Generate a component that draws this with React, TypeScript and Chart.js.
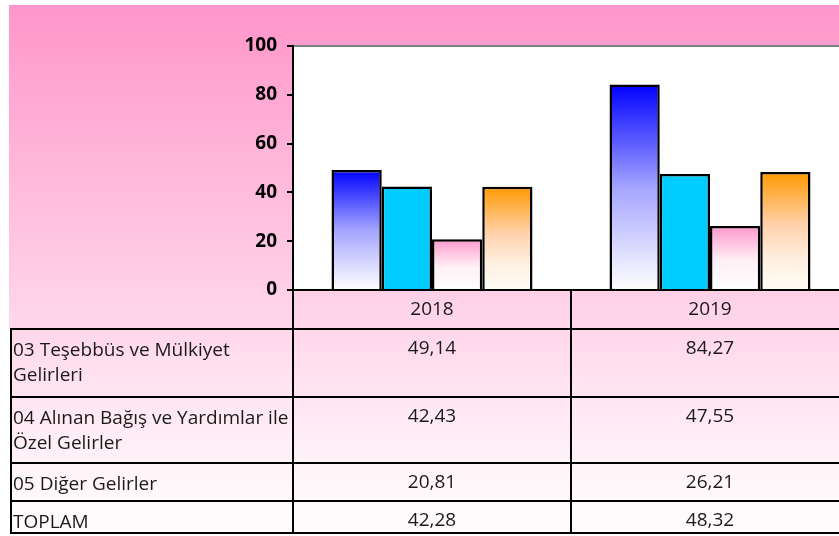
import React, { useEffect, useRef } from "react";
import { Chart, registerables } from "chart.js";

Chart.register(...registerables);

// ---- data ----
const categories = ["2018", "2019"];
const seriesNames = [
  "03 Teşebbüs ve Mülkiyet Gelirleri",
  "04 Alınan Bağış ve Yardımlar ile Özel Gelirler",
  "05 Diğer Gelirler",
  "TOPLAM",
];
const seriesLines = [
  ["03 Teşebbüs ve Mülkiyet", "Gelirleri"],
  ["04 Alınan Bağış ve Yardımlar ile", "Özel Gelirler"],
  ["05 Diğer Gelirler"],
  ["TOPLAM"],
];
const tesebbusValues = [49.14, 84.27];
const bagisValues = [42.43, 47.55];
const digerValues = [20.81, 26.21];
const toplamValues = [42.28, 48.32];
const yTickValues = [0, 20, 40, 60, 80, 100];

const FONT = "'Open Sans', 'Noto Sans', sans-serif";

type Stop = [number, string];
const gradientFill = (stops: Stop[]) => (ctx: any) => {
  const chart = ctx.chart;
  if (ctx.type !== "data" || !chart.chartArea || !chart.scales.y) return stops[0][1];
  const y = chart.scales.y;
  const top = y.getPixelForValue(ctx.raw as number);
  const bottom = y.getPixelForValue(0);
  if (!isFinite(top) || !isFinite(bottom) || top === bottom) return stops[0][1];
  const g = chart.ctx.createLinearGradient(0, top, 0, bottom);
  stops.forEach(([o, c]) => g.addColorStop(o, c));
  return g;
};

const fmt = (v: number) => v.toFixed(2).replace(".", ",");

const rowHeights = [68, 66, 38, 32];
const headerHeight = 39;

const tablePlugin = {
  id: "bgAndTable",
  beforeDraw(chart: any) {
    const { ctx, chartArea: a, width, height } = chart;
    ctx.save();
    ctx.fillStyle = "#FFFFFF";
    ctx.fillRect(0, 0, width, height);
    const g = ctx.createLinearGradient(0, 5, 0, 500);
    g.addColorStop(0, "#FF96CA");
    g.addColorStop(1, "#FFFAFC");
    ctx.fillStyle = g;
    ctx.fillRect(9, 5, width - 9, height - 5);
    ctx.fillStyle = "#FFFFFF";
    ctx.fillRect(0, a.bottom + headerHeight, 10, height);
    ctx.fillStyle = "#FFFEFF";
    ctx.fillRect(a.left, a.top, a.right - a.left, a.bottom - a.top);
    ctx.restore();
  },
  afterDraw(chart: any) {
    const { ctx, chartArea: a } = chart;
    const x = chart.scales.x;
    const datasets = chart.data.datasets;
    const left = 11;
    const c0 = a.left;
    const c1 = (x.getPixelForValue(0) + x.getPixelForValue(1)) / 2;
    const right = a.right;
    const hdrTop = a.bottom;
    const hdrBot = hdrTop + headerHeight;
    const tops: number[] = [];
    let yy = hdrBot;
    rowHeights.forEach((h) => {
      tops.push(yy);
      yy += h;
    });
    const tableBottom = yy;

    ctx.save();
    ctx.strokeStyle = "#808080";
    ctx.lineWidth = 2;
    ctx.beginPath();
    ctx.moveTo(a.left + 1, a.top);
    ctx.lineTo(right, a.top);
    ctx.stroke();

    ctx.strokeStyle = "#000000";
    ctx.lineWidth = 2;
    ctx.beginPath();
    ctx.moveTo(c0, hdrTop);
    ctx.lineTo(c0, tableBottom);
    ctx.moveTo(c1, hdrTop);
    ctx.lineTo(c1, tableBottom);
    ctx.moveTo(left, hdrBot);
    ctx.lineTo(left, tableBottom + 1);
    ctx.moveTo(left - 1, hdrBot);
    ctx.lineTo(right, hdrBot);
    tops.forEach((t, i) => {
      const b = t + rowHeights[i];
      ctx.moveTo(left - 1, b);
      ctx.lineTo(right, b);
    });
    ctx.stroke();

    ctx.fillStyle = "#1A1A1A";
    ctx.font = `19px ${FONT}`;
    ctx.textBaseline = "middle";
    datasets.forEach((ds: any, i: number) => {
      const t = tops[i];
      ctx.textAlign = "left";
      seriesLines[i].forEach((line, j) => {
        ctx.fillText(line, 13, t + 22 + j * 25);
      });
      ctx.textAlign = "center";
      (ds.data as number[]).forEach((v, k) => {
        ctx.fillText(fmt(v), x.getPixelForValue(k), t + 20);
      });
    });
    ctx.restore();
  },
};

export default function App() {
  const canvasRef = useRef<HTMLCanvasElement | null>(null);

  useEffect(() => {
    if (!canvasRef.current) return;
    const chart = new Chart(canvasRef.current, {
      type: "bar",
      data: {
        labels: categories,
        datasets: [
          {
            label: seriesNames[0],
            data: tesebbusValues,
            backgroundColor: gradientFill([
              [0, "#0000FF"],
              [0.5, "#A4A4FF"],
              [1, "#FFFFFF"],
            ]),
          },
          {
            label: seriesNames[1],
            data: bagisValues,
            backgroundColor: "#00CCFF",
          },
          {
            label: seriesNames[2],
            data: digerValues,
            backgroundColor: gradientFill([
              [0, "#FF99CC"],
              [0.55, "#FFF0F6"],
              [1, "#FFFFFF"],
            ]),
          },
          {
            label: seriesNames[3],
            data: toplamValues,
            backgroundColor: gradientFill([
              [0, "#FF9900"],
              [0.45, "#FFD2AC"],
              [0.75, "#FFF0E2"],
              [1, "#FFFCF6"],
            ]),
          },
        ].map((d) => ({
          ...d,
          borderColor: "#000000",
          borderWidth: 2.5,
          borderSkipped: "start" as const,
          barPercentage: 1,
          categoryPercentage: 0.723,
        })),
      },
      options: {
        animation: false,
        responsive: true,
        maintainAspectRatio: false,
        layout: { padding: { top: 46, left: 0, right: 0, bottom: 0 } },
        plugins: {
          legend: { display: false },
          tooltip: { enabled: false },
          title: { display: false },
        },
        scales: {
          x: {
            type: "category",
            position: "bottom",
            grid: { display: false, drawTicks: false },
            border: { display: true, color: "#000000", width: 2 },
            ticks: {
              color: "#1A1A1A",
              font: { family: FONT, size: 19 },
              padding: 8,
              maxRotation: 0,
            },
            afterFit: (scale: any) => {
              scale.height = 246;
            },
          },
          y: {
            min: 0,
            max: 100,
            afterBuildTicks: (scale: any) => {
              scale.ticks = yTickValues.map((v) => ({ value: v }));
            },
            grid: {
              drawOnChartArea: false,
              drawTicks: true,
              tickLength: 6,
              color: "#000000",
              lineWidth: 2,
            },
            border: { display: true, color: "#000000", width: 2 },
            ticks: {
              color: "#000000",
              font: { family: FONT, size: 19, weight: "bold" },
              padding: 10,
            },
            afterFit: (scale: any) => {
              scale.width = 293;
            },
          },
        },
      },
      plugins: [tablePlugin],
    });
    return () => chart.destroy();
  }, []);

  return (
    <div
      style={{
        position: "fixed",
        left: 0,
        top: 0,
        width: 839,
        height: 536,
        overflow: "hidden",
        background: "#FFFFFF",
      }}
    >
      <div style={{ position: "relative", width: 849, height: 536 }}>
        <canvas ref={canvasRef} />
      </div>
    </div>
  );
}
